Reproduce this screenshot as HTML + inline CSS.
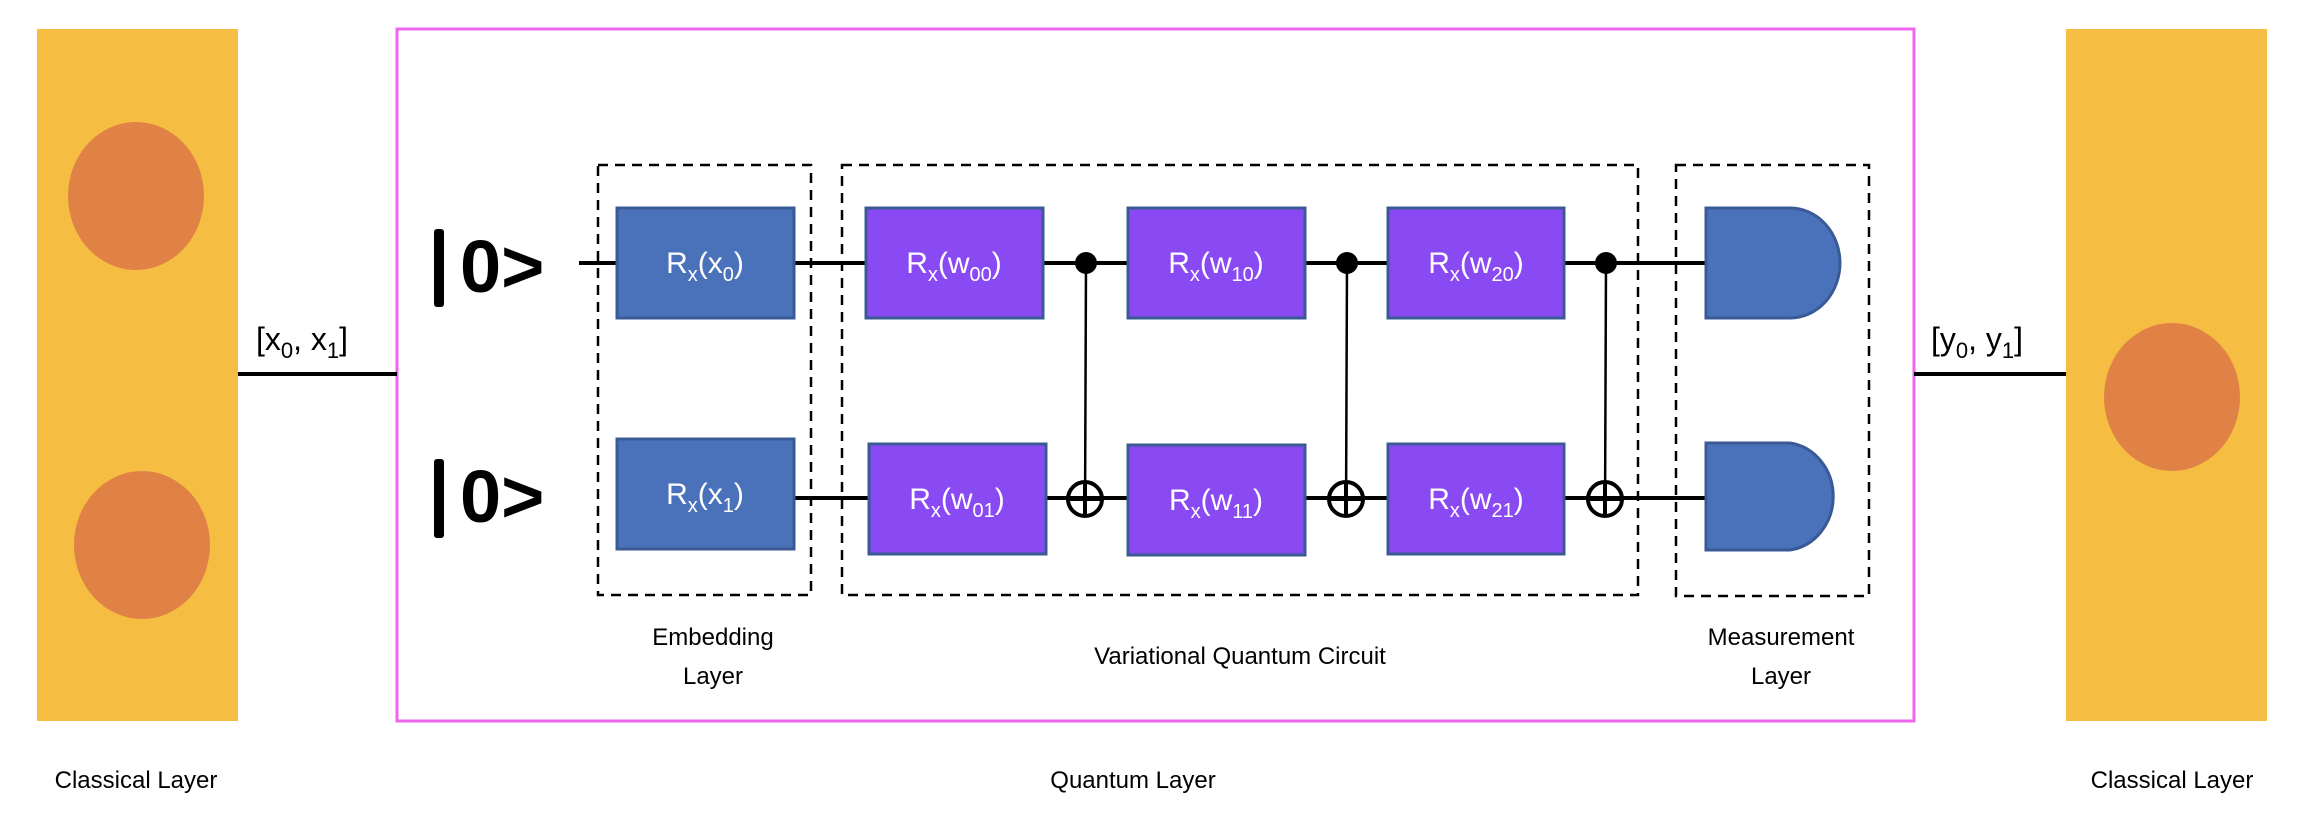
<!DOCTYPE html>
<html><head><meta charset="utf-8"><style>
html,body{margin:0;padding:0;background:#fff;}
svg{display:block;}
text{font-family:"Liberation Sans",sans-serif;}
</style></head><body>
<svg width="2310" height="830" viewBox="0 0 2310 830" xmlns="http://www.w3.org/2000/svg">
<rect x="0" y="0" width="2310" height="830" fill="#fff"/>
<rect x="37" y="29" width="201" height="692" fill="#f5be42"/>
<ellipse cx="136" cy="196" rx="68" ry="74" fill="#e08246"/>
<ellipse cx="142" cy="545" rx="68" ry="74" fill="#e08246"/>
<rect x="2066" y="29" width="201" height="692" fill="#f5be42"/>
<ellipse cx="2172" cy="397" rx="68" ry="74" fill="#e08246"/>
<rect x="397" y="29" width="1517" height="692" fill="none" stroke="#ee66ee" stroke-width="3"/>
<line x1="238" y1="374" x2="397" y2="374" stroke="#000" stroke-width="4"/>
<line x1="1914" y1="374" x2="2066" y2="374" stroke="#000" stroke-width="4"/>
<text x="256" y="350" font-size="32">[x<tspan font-size="22" dy="8">0</tspan><tspan dy="-8">, x</tspan><tspan font-size="22" dy="8">1</tspan><tspan dy="-8">]</tspan></text>
<text x="1931" y="350" font-size="32">[y<tspan font-size="22" dy="8">0</tspan><tspan dy="-8">, y</tspan><tspan font-size="22" dy="8">1</tspan><tspan dy="-8">]</tspan></text>
<rect x="434" y="229" width="10" height="78" rx="3" fill="#000"/>
<rect x="434" y="459" width="10" height="79" rx="3" fill="#000"/>
<text x="460" y="292" font-size="74" font-weight="bold">0&gt;</text>
<text x="460" y="522" font-size="74" font-weight="bold">0&gt;</text>
<line x1="579" y1="263" x2="1706" y2="263" stroke="#000" stroke-width="4"/>
<line x1="794" y1="498" x2="1706" y2="498" stroke="#000" stroke-width="4"/>
<g fill="none" stroke="#000" stroke-width="2.5" stroke-dasharray="10,7">
<rect x="598" y="165" width="213" height="430"/>
<rect x="842" y="165" width="796" height="430"/>
<rect x="1676" y="165" width="193" height="431"/>
</g>
<g stroke="#3a5a95" stroke-width="3">
<rect x="617" y="208" width="177" height="110" fill="#4a72bb"/>
<rect x="617" y="439" width="177" height="110" fill="#4a72bb"/>
<rect x="866" y="208" width="177" height="110" fill="#8a4af3"/>
<rect x="869" y="444" width="177" height="110" fill="#8a4af3"/>
<rect x="1128" y="208" width="177" height="110" fill="#8a4af3"/>
<rect x="1128" y="445" width="177" height="110" fill="#8a4af3"/>
<rect x="1388" y="208" width="176" height="110" fill="#8a4af3"/>
<rect x="1388" y="444" width="176" height="110" fill="#8a4af3"/>
<path d="M1706 208 H1790 A50 55 0 0 1 1790 318 H1706 Z" fill="#4a72bb"/>
<path d="M1706 443 H1790 A50 54 0 0 1 1790 550 H1706 Z" fill="#4a72bb"/>
</g>
<g fill="#fff" font-size="30" text-anchor="middle">
<text x="705" y="273">R<tspan font-size="20" dy="8">x</tspan><tspan dy="-8">(x</tspan><tspan font-size="20" dy="8">0</tspan><tspan dy="-8">)</tspan></text>
<text x="705" y="504">R<tspan font-size="20" dy="8">x</tspan><tspan dy="-8">(x</tspan><tspan font-size="20" dy="8">1</tspan><tspan dy="-8">)</tspan></text>
<text x="954" y="273">R<tspan font-size="20" dy="8">x</tspan><tspan dy="-8">(w</tspan><tspan font-size="20" dy="8">00</tspan><tspan dy="-8">)</tspan></text>
<text x="957" y="509">R<tspan font-size="20" dy="8">x</tspan><tspan dy="-8">(w</tspan><tspan font-size="20" dy="8">01</tspan><tspan dy="-8">)</tspan></text>
<text x="1216" y="273">R<tspan font-size="20" dy="8">x</tspan><tspan dy="-8">(w</tspan><tspan font-size="20" dy="8">10</tspan><tspan dy="-8">)</tspan></text>
<text x="1216" y="510">R<tspan font-size="20" dy="8">x</tspan><tspan dy="-8">(w</tspan><tspan font-size="20" dy="8">11</tspan><tspan dy="-8">)</tspan></text>
<text x="1476" y="273">R<tspan font-size="20" dy="8">x</tspan><tspan dy="-8">(w</tspan><tspan font-size="20" dy="8">20</tspan><tspan dy="-8">)</tspan></text>
<text x="1476" y="509">R<tspan font-size="20" dy="8">x</tspan><tspan dy="-8">(w</tspan><tspan font-size="20" dy="8">21</tspan><tspan dy="-8">)</tspan></text>
</g>
<g stroke="#000">
<line x1="1086" y1="263" x2="1085" y2="516" stroke-width="2.5"/>
<circle cx="1086" cy="263" r="11" fill="#000" stroke="none"/>
<circle cx="1085" cy="499" r="17" fill="none" stroke-width="4"/>
<line x1="1068" y1="499" x2="1102" y2="499" stroke-width="4"/>
<line x1="1085" y1="482" x2="1085" y2="516" stroke-width="4"/>
<line x1="1347" y1="263" x2="1346" y2="516" stroke-width="2.5"/>
<circle cx="1347" cy="263" r="11" fill="#000" stroke="none"/>
<circle cx="1346" cy="499" r="17" fill="none" stroke-width="4"/>
<line x1="1329" y1="499" x2="1363" y2="499" stroke-width="4"/>
<line x1="1346" y1="482" x2="1346" y2="516" stroke-width="4"/>
<line x1="1606" y1="263" x2="1605" y2="516" stroke-width="2.5"/>
<circle cx="1606" cy="263" r="11" fill="#000" stroke="none"/>
<circle cx="1605" cy="499" r="17" fill="none" stroke-width="4"/>
<line x1="1588" y1="499" x2="1622" y2="499" stroke-width="4"/>
<line x1="1605" y1="482" x2="1605" y2="516" stroke-width="4"/>
</g>
<g font-size="24" text-anchor="middle" fill="#000">
<text x="136" y="788">Classical Layer</text>
<text x="2172" y="788">Classical Layer</text>
<text x="1133" y="788">Quantum Layer</text>
<text x="713" y="645">Embedding</text>
<text x="713" y="684">Layer</text>
<text x="1240" y="664">Variational Quantum Circuit</text>
<text x="1781" y="645">Measurement</text>
<text x="1781" y="684">Layer</text>
</g>
</svg>
</body></html>
